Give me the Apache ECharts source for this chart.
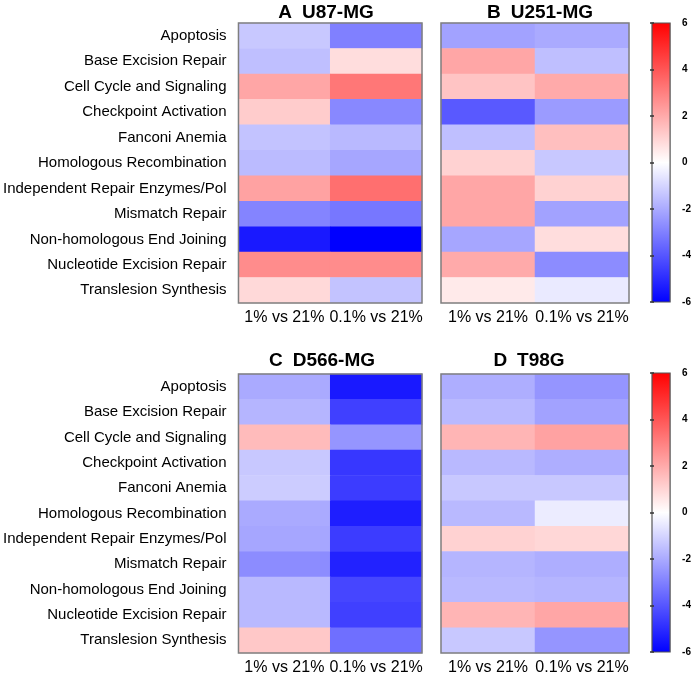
<!DOCTYPE html>
<html>
<head>
<meta charset="utf-8">
<script src="https://cdn.jsdelivr.net/npm/echarts@6/dist/echarts.min.js"></script>
<style>html,body{margin:0;padding:0;background:#fff}#c{width:694px;height:676px}</style>
</head>
<body>
<div id="c"></div>
<script>
const pathways = ["Apoptosis","Base Excision Repair","Cell Cycle and Signaling","Checkpoint Activation","Fanconi Anemia","Homologous Recombination","Independent Repair Enzymes/Pol","Mismatch Repair","Non-homologous End Joining","Nucleotide Excision Repair","Translesion Synthesis"];
const conditions = ["1% vs 21%","0.1% vs 21%"];
const colorTicks = [-6,-4,-2,0,2,4,6];
const scaleColors = ['#0000ff','#ffffff','#ff0000'];
// values per pathway: [1% vs 21%, 0.1% vs 21%]
const u87 = [[-1.3,-3.0],[-1.5,0.8],[2.1,3.2],[1.2,-2.8],[-1.4,-1.65],[-1.6,-2.1],[2.2,3.4],[-2.9,-3.2],[-5.4,-6.0],[2.7,2.7],[0.9,-1.4]];
const u251 = [[-2.2,-2.0],[2.1,-1.5],[1.4,2.0],[-3.9,-2.35],[-1.5,1.5],[1.05,-1.3],[2.1,1.05],[2.1,-2.2],[-2.1,0.8],[2.0,-2.7],[0.5,-0.5]];
const d566 = [[-2.0,-5.4],[-1.75,-4.5],[1.6,-2.5],[-1.3,-4.7],[-1.2,-4.6],[-2.0,-5.3],[-2.1,-4.6],[-2.7,-5.2],[-1.65,-4.35],[-1.65,-4.5],[1.3,-3.4]];
const t98g = [[-1.9,-2.5],[-1.65,-2.2],[1.75,2.2],[-1.65,-1.9],[-1.3,-1.3],[-1.65,-0.45],[1.05,0.95],[-1.75,-1.9],[-1.65,-1.75],[1.75,2.1],[-1.3,-2.5]];
const panels = [
  {letter:"A", name:"U87-MG", values:u87},
  {letter:"B", name:"U251-MG", values:u251},
  {letter:"C", name:"D566-MG", values:d566},
  {letter:"D", name:"T98G", values:t98g}
];

const FONT = "Liberation Sans, Arial, sans-serif";
const gridPos = [
  {left:234, top:23, width:188, height:280},
  {left:441, top:23, width:188, height:280},
  {left:234, top:374, width:188, height:279},
  {left:441, top:374, width:188, height:279}
];
const titleCenters = [321, 535, 317, 524];
const barPos = [
  {left:652, top:23, width:23, height:279},
  {left:652, top:373, width:23, height:279}
];

const grid = [], xAxis = [], yAxis = [], series = [], title = [];
panels.forEach((p,i)=>{
  const g = gridPos[i];
  grid.push(Object.assign({show:true, z:10, backgroundColor:'transparent', borderColor:'#7f7f7f', borderWidth:1.5, containLabel:false}, g));
  xAxis.push({type:'category', gridIndex:i, data:conditions, position:'bottom',
    axisLine:{show:false}, axisTick:{show:false}, splitLine:{show:false},
    axisLabel:{interval:0, fontFamily:FONT, fontSize:16, color:'#000', margin:7}});
  yAxis.push({type:'category', gridIndex:i, data:pathways, inverse:true,
    axisLine:{show:false}, axisTick:{show:false}, splitLine:{show:false},
    axisLabel:{show:(i%2===0), interval:0, fontFamily:FONT, fontSize:15, color:'#000', margin:12}});
  const data = [];
  p.values.forEach((row,r)=>row.forEach((v,c)=>data.push([c,r,v])));
  series.push({type:'heatmap', xAxisIndex:i, yAxisIndex:i, data:data, itemStyle:{borderWidth:0}, emphasis:{disabled:true}});
  title.push({text:'{b|'+p.letter+'}  {n|'+p.name+'}', left:titleCenters[i], textAlign:'center',
    top:(i<2?-2:346),
    textStyle:{rich:{b:{fontFamily:FONT,fontSize:19,fontWeight:'bold',color:'#000'}, n:{fontFamily:FONT,fontSize:19,color:'#000'}}}});
});
// colour bars: gradient-filled grids with tick axes
barPos.forEach((b,k)=>{
  const gi = grid.length;
  grid.push(Object.assign({show:true, z:1, borderColor:'#555', borderWidth:1.2,
    backgroundColor:new echarts.graphic.LinearGradient(0,0,0,1,[
      {offset:0, color:scaleColors[2]},{offset:0.5, color:scaleColors[1]},{offset:1, color:scaleColors[0]}])}, b));
  xAxis.push({type:'value', gridIndex:gi, show:false});
  yAxis.push({type:'value', gridIndex:gi, min:colorTicks[0], max:colorTicks[colorTicks.length-1], interval:2, position:'right', z:11,
    axisLine:{show:false}, splitLine:{show:false},
    axisTick:{show:true, inside:true, length:2, lineStyle:{color:'#333', width:1.5}},
    axisLabel:{fontFamily:FONT, fontSize:10, fontWeight:'bold', color:'#000', margin:12}});
  yAxis.push({type:'value', gridIndex:gi, min:colorTicks[0], max:colorTicks[colorTicks.length-1], interval:2, position:'left', z:11,
    axisLine:{show:false}, splitLine:{show:false},
    axisTick:{show:true, inside:true, length:2, lineStyle:{color:'#333', width:1.5}},
    axisLabel:{show:false}});
});

const vmBase = {type:'continuous', show:false, min:-6, max:6, inRange:{color:scaleColors}};
const visualMap = [
  Object.assign({}, vmBase, {seriesIndex:[0,1,2,3]})
];

const chart = echarts.init(document.getElementById('c'), null, {renderer:'canvas'});
chart.setOption({animation:false, backgroundColor:'#fff', title, grid, xAxis, yAxis, series, visualMap});
</script>
</body>
</html>
